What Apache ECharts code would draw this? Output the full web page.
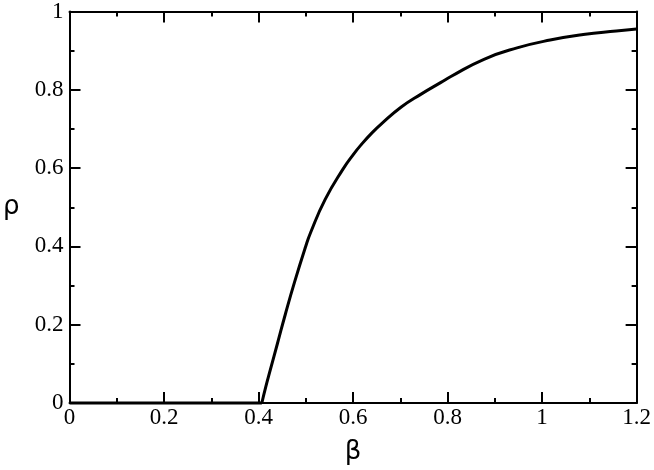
<!DOCTYPE html>
<html>
<head>
<meta charset="utf-8">
<script src="https://cdn.jsdelivr.net/npm/echarts@6/dist/echarts.min.js"></script>
<style>
html,body{margin:0;padding:0;background:#fff;}
#container{width:654px;height:470px;}
</style>
</head>
<body>
<div id="container"></div>
<script>
// values
var betaFlat = [0, 0.407];
var rhoFlat = [0, 0];
var betaCurve = [0.407, 0.415, 0.425, 0.44, 0.457, 0.476, 0.499, 0.51, 0.541, 0.579, 0.6, 0.618, 0.64, 0.66, 0.702, 0.744, 0.786, 0.807, 0.877, 0.947, 1.017, 1.087, 1.157, 1.2];
var rhoCurve = [0, 0.04, 0.085, 0.152, 0.228, 0.308, 0.397, 0.435, 0.52, 0.598, 0.634, 0.661, 0.69, 0.713, 0.756, 0.789, 0.819, 0.834, 0.878, 0.907, 0.927, 0.941, 0.95, 0.955];

window.onload = function () {
	var pairs = function (xs, ys) {
		var res = [];
		for (var i = 0; i < xs.length; i++) {
			res.push([xs[i], ys[i]]);
		}
		return res;
	};
	var lineStyle = {color: '#000', width: 2};
	var tickLabel = {fontFamily: 'Liberation Serif', fontSize: 23, color: '#000'};
	var xBase = {
		type: 'value', min: 0, max: 1.2, interval: 0.2,
		axisLine: {show: true, onZero: false, lineStyle: lineStyle},
		axisTick: {show: true, inside: true, length: 11, lineStyle: lineStyle},
		minorTick: {show: true, splitNumber: 2, length: 5, lineStyle: {color: '#000', width: 2}},
		splitLine: {show: false}
	};
	var yBase = {
		type: 'value', min: 0, max: 1, interval: 0.2,
		axisLine: {show: true, onZero: false, lineStyle: lineStyle},
		axisTick: {show: true, inside: true, length: 11, lineStyle: lineStyle},
		minorTick: {show: true, splitNumber: 2, length: 5, lineStyle: {color: '#000', width: 2}},
		splitLine: {show: false}
	};
	var option = {
		backgroundColor: '#fff',
		animation: false,
		grid: {left: 66, right: 17, top: 9, bottom: 61},
		xAxis: [
			Object.assign({}, xBase, {
				position: 'bottom',
				axisLabel: Object.assign({margin: 3}, tickLabel),
				name: 'β', nameLocation: 'middle', nameGap: 36,
				nameTextStyle: {fontFamily: 'DejaVu Sans', fontSize: 26, color: '#000'}
			}),
			Object.assign({}, xBase, {position: 'top', axisLabel: {show: false}})
		],
		yAxis: [
			Object.assign({}, yBase, {
				position: 'left',
				axisLabel: Object.assign({margin: 6}, tickLabel),
				name: 'ρ', nameLocation: 'middle', nameGap: 50, nameRotate: 0,
				nameTextStyle: {fontFamily: 'DejaVu Sans', fontSize: 26, color: '#000'}
			}),
			Object.assign({}, yBase, {position: 'right', axisLabel: {show: false}})
		],
		series: [
			{
				type: 'line', data: pairs(betaFlat, rhoFlat), symbol: 'none',
				lineStyle: {color: '#000', width: 3}, clip: false
			},
			{
				type: 'line', data: pairs(betaCurve, rhoCurve), symbol: 'none',
				smooth: 0.5,
				lineStyle: {color: '#000', width: 3}, clip: false
			}
		]
	};
	var chart = echarts.init(document.getElementById('container'));
	chart.setOption(option);
};
</script>
</body>
</html>
